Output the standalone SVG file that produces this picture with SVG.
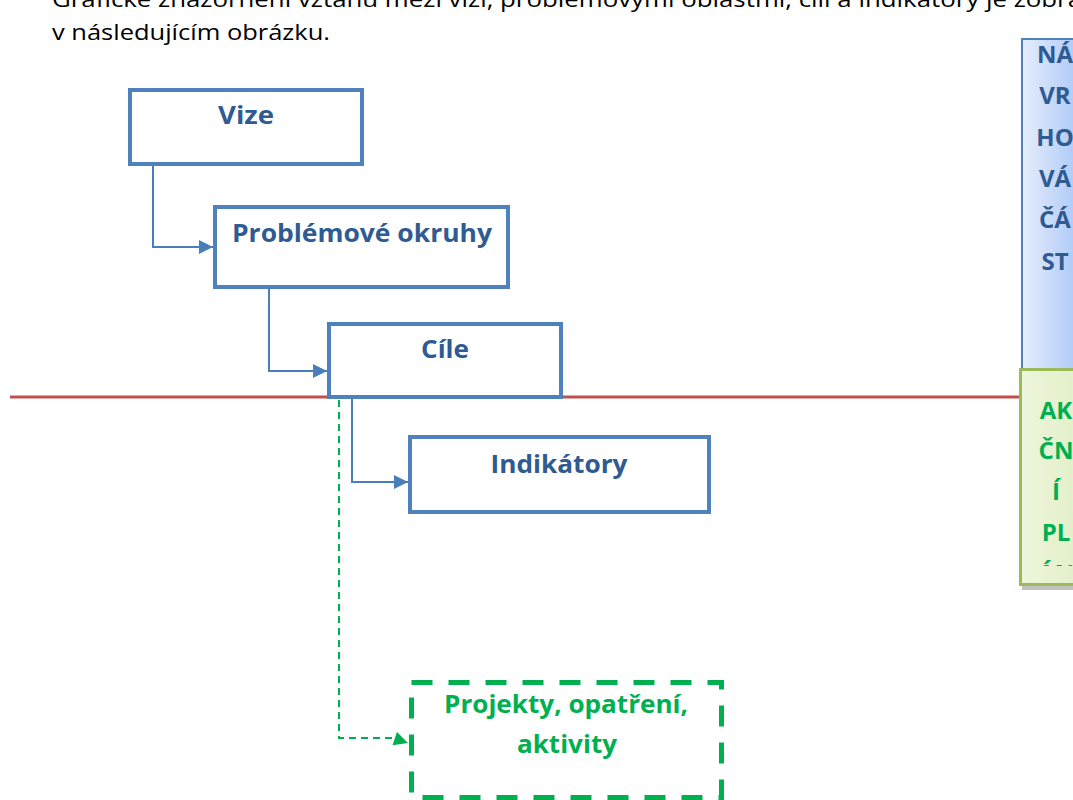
<svg xmlns="http://www.w3.org/2000/svg" width="1073" height="800" viewBox="0 0 1073 800">
<style>
.para{font-family:"Open Sans","Liberation Sans",sans-serif;font-size:22px;fill:#000}
.box{fill:#fff;stroke:#4f81bd;stroke-width:4}
.lbl{font-family:"Open Sans","Liberation Sans",sans-serif;font-weight:bold;font-size:25px;fill:#2f5b92;text-anchor:middle}
.glbl{font-family:"Open Sans","Liberation Sans",sans-serif;font-weight:bold;font-size:25px;fill:#00b050;text-anchor:middle}
.side{font-size:24px}
.conn{fill:none;stroke:#4a7ebb;stroke-width:2}
.gconn{fill:none;stroke:#00b050;stroke-width:2;stroke-dasharray:7 5}
</style>
<defs>
<marker id="ab" viewBox="0 0 10 10" refX="10" refY="5" markerWidth="15" markerHeight="14" markerUnits="userSpaceOnUse" orient="auto">
<path d="M0,0 L10,5 L0,10 Z" fill="#4a7ebb"/>
</marker>
<marker id="ag" viewBox="0 0 10 10" refX="10" refY="5" markerWidth="15" markerHeight="14" markerUnits="userSpaceOnUse" orient="auto">
<path d="M0,0 L10,5 L0,10 Z" fill="#00b050"/>
</marker>
<linearGradient id="gb" x1="0" y1="0" x2="1" y2="0">
<stop offset="0" stop-color="#e6eefc"/>
<stop offset="1" stop-color="#a9c6f7"/>
</linearGradient>
<linearGradient id="gg" x1="0" y1="0" x2="1" y2="0">
<stop offset="0" stop-color="#eef6dc"/>
<stop offset="1" stop-color="#e2efc8"/>
</linearGradient>
<clipPath id="gclip"><rect x="1020" y="370" width="60" height="196"/></clipPath>
</defs>

<g id="paragraph">
<text class="para" x="52" y="7" textLength="1030" lengthAdjust="spacingAndGlyphs">Grafické znázornění vztahu mezi vizí, problémovými oblastmi, cíli a indikátory je zobra</text>
<text class="para" x="52" y="40" textLength="278" lengthAdjust="spacingAndGlyphs">v následujícím obrázku.</text>
</g>

<g id="redline">
<line x1="10" y1="397" x2="1022" y2="397" stroke="#c0504d" stroke-width="3"/>
</g>

<g id="connectors">
<path class="conn" d="M153,166 V247 H213" marker-end="url(#ab)"/>
<path class="conn" d="M269,289 V371 H327" marker-end="url(#ab)"/>
<path class="conn" d="M352,399 V482 H408" marker-end="url(#ab)"/>
<path class="gconn" d="M339,400 V738 H393 L408,743" marker-end="url(#ag)"/>
</g>

<g id="vize">
<rect class="box" x="130" y="90" width="232" height="74"/>
<text class="lbl" x="246" y="124" textLength="56" lengthAdjust="spacingAndGlyphs">Vize</text>
</g>
<g id="problemove-okruhy">
<rect class="box" x="215" y="207" width="293" height="80"/>
<text class="lbl" x="362" y="242" textLength="260" lengthAdjust="spacingAndGlyphs">Problémové okruhy</text>
</g>
<g id="cile">
<rect class="box" x="329" y="324" width="232" height="73"/>
<text class="lbl" x="445" y="358" textLength="48" lengthAdjust="spacingAndGlyphs">Cíle</text>
</g>
<g id="indikatory">
<rect class="box" x="410" y="437" width="299" height="75"/>
<text class="lbl" x="559" y="473" textLength="137" lengthAdjust="spacingAndGlyphs">Indikátory</text>
</g>
<g id="projekty">
<rect x="411.5" y="682.5" width="310" height="115" fill="#fff" stroke="#00b050" stroke-width="5" stroke-dasharray="21 16"/>
<text class="glbl" x="566" y="713" textLength="244" lengthAdjust="spacingAndGlyphs">Projekty, opatření,</text>
<text class="glbl" x="567" y="753" textLength="100" lengthAdjust="spacingAndGlyphs">aktivity</text>
</g>

<g id="navrhova-cast">
<rect x="1022" y="39" width="60" height="334" fill="url(#gb)" stroke="#4f81bd" stroke-width="2"/>
<text class="lbl side" x="1055" y="63">NÁ</text>
<text class="lbl side" x="1055" y="104">VR</text>
<text class="lbl side" x="1055" y="146">HO</text>
<text class="lbl side" x="1055" y="187">VÁ</text>
<text class="lbl side" x="1055" y="228">ČÁ</text>
<text class="lbl side" x="1055" y="270">ST</text>
</g>

<g id="akcni-plan">
<rect x="1022" y="371" width="60" height="219" fill="#9a9a9a" opacity="0.6"/>
<rect x="1020.5" y="369.5" width="60" height="215" fill="url(#gg)" stroke="#9bbb59" stroke-width="3"/>
<g clip-path="url(#gclip)">
<text class="glbl side" x="1056" y="419">AK</text>
<text class="glbl side" x="1056" y="459">ČN</text>
<text class="glbl side" x="1056" y="500">Í</text>
<text class="glbl side" x="1056" y="541">PL</text>
<text class="glbl side" x="1056" y="582">ÁN</text>
</g>
</g>
</svg>
